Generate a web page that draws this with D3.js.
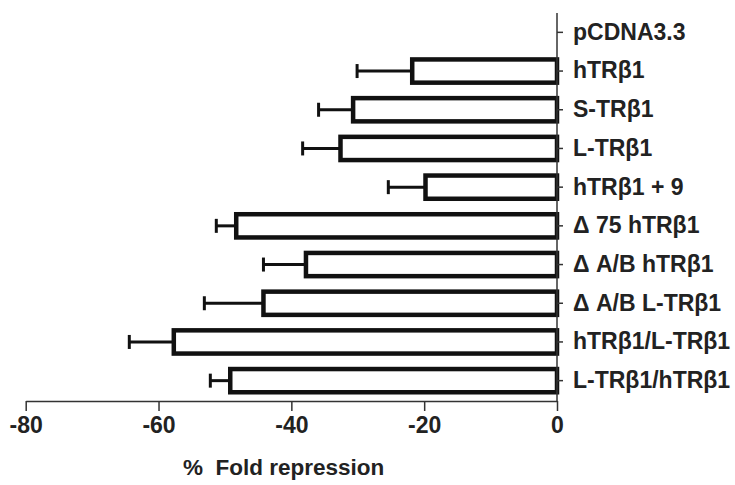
<!DOCTYPE html>
<html>
<head>
<meta charset="utf-8">
<script src="https://cdn.jsdelivr.net/npm/d3@7"></script>
<style>
  body { margin: 0; background: #fff; }
  svg text { font-family: "Liberation Sans", Arial, sans-serif; font-weight: bold; fill: #222; }
</style>
</head>
<body>
<svg width="735" height="485"></svg>
<script>
// constructs, top to bottom
const labels = [
  "pCDNA3.3", "hTRβ1", "S-TRβ1", "L-TRβ1", "hTRβ1 + 9",
  "Δ 75 hTRβ1", "Δ A/B hTRβ1", "Δ A/B L-TRβ1", "hTRβ1/L-TRβ1", "L-TRβ1/hTRβ1"
];
// mean % fold repression
const means = [0, -21.8, -30.7, -32.6, -19.8, -48.3, -37.8, -44.2, -57.7, -49.2];
// error (drawn outward, to the left)
const errors = [0, 8.3, 5.2, 5.7, 5.6, 3.0, 6.4, 8.9, 6.7, 3.0];
const xTicks = [-80, -60, -40, -20, 0];

const svg = d3.select("svg");

const x = d3.scaleLinear().domain([-80, 0]).range([25.7, 557]);
const y = d3.scaleBand().domain(labels).range([13, 400]).paddingInner(0.4).paddingOuter(0.2);

const rows = labels.map((d, i) => ({ label: d, mean: means[i], err: errors[i] }));

// error bars
const eb = svg.append("g").attr("stroke", "#111").attr("stroke-width", 3);
rows.filter(d => d.mean !== 0).forEach(d => {
  const cy = y(d.label) + y.bandwidth() / 2;
  const xe = x(d.mean - d.err);
  eb.append("line").attr("x1", x(d.mean)).attr("x2", xe).attr("y1", cy).attr("y2", cy);
  eb.append("line").attr("x1", xe).attr("x2", xe).attr("y1", cy - 7).attr("y2", cy + 7);
});

// bars
svg.append("g")
  .selectAll("rect")
  .data(rows.filter(d => d.mean !== 0))
  .join("rect")
  .attr("x", d => x(d.mean))
  .attr("width", d => x(0) - x(d.mean))
  .attr("y", d => y(d.label))
  .attr("height", y.bandwidth())
  .attr("fill", "#fff")
  .attr("stroke", "#111")
  .attr("stroke-width", 4.5);

// x axis
const xAxis = svg.append("g")
  .attr("transform", "translate(0,401)")
  .call(d3.axisBottom(x).tickValues(xTicks).tickSize(10).tickSizeOuter(0).tickFormat(d3.format("d")));
xAxis.selectAll("path, line").attr("stroke", "#333").attr("stroke-width", 1.5);
xAxis.selectAll("text").attr("font-size", 23).attr("dy", "0.9em").attr("y", 11).text(d => d === 0 ? "0" : "-" + Math.abs(d));

// y axis on the right
const yAxis = svg.append("g")
  .attr("transform", "translate(557,0)")
  .call(d3.axisRight(y).tickSize(6).tickSizeOuter(0).tickPadding(10));
yAxis.select(".domain").attr("d", "M0,13V401");
yAxis.selectAll("path, line").attr("stroke", "#333").attr("stroke-width", 1.5);
yAxis.selectAll("text").attr("font-size", 23).attr("letter-spacing", 0);

// axis title
svg.append("text")
  .attr("x", 183)
  .attr("y", 475)
  .attr("font-size", 22.5)
  .style("white-space", "pre")
  .text("%  Fold repression");
</script>
</body>
</html>
